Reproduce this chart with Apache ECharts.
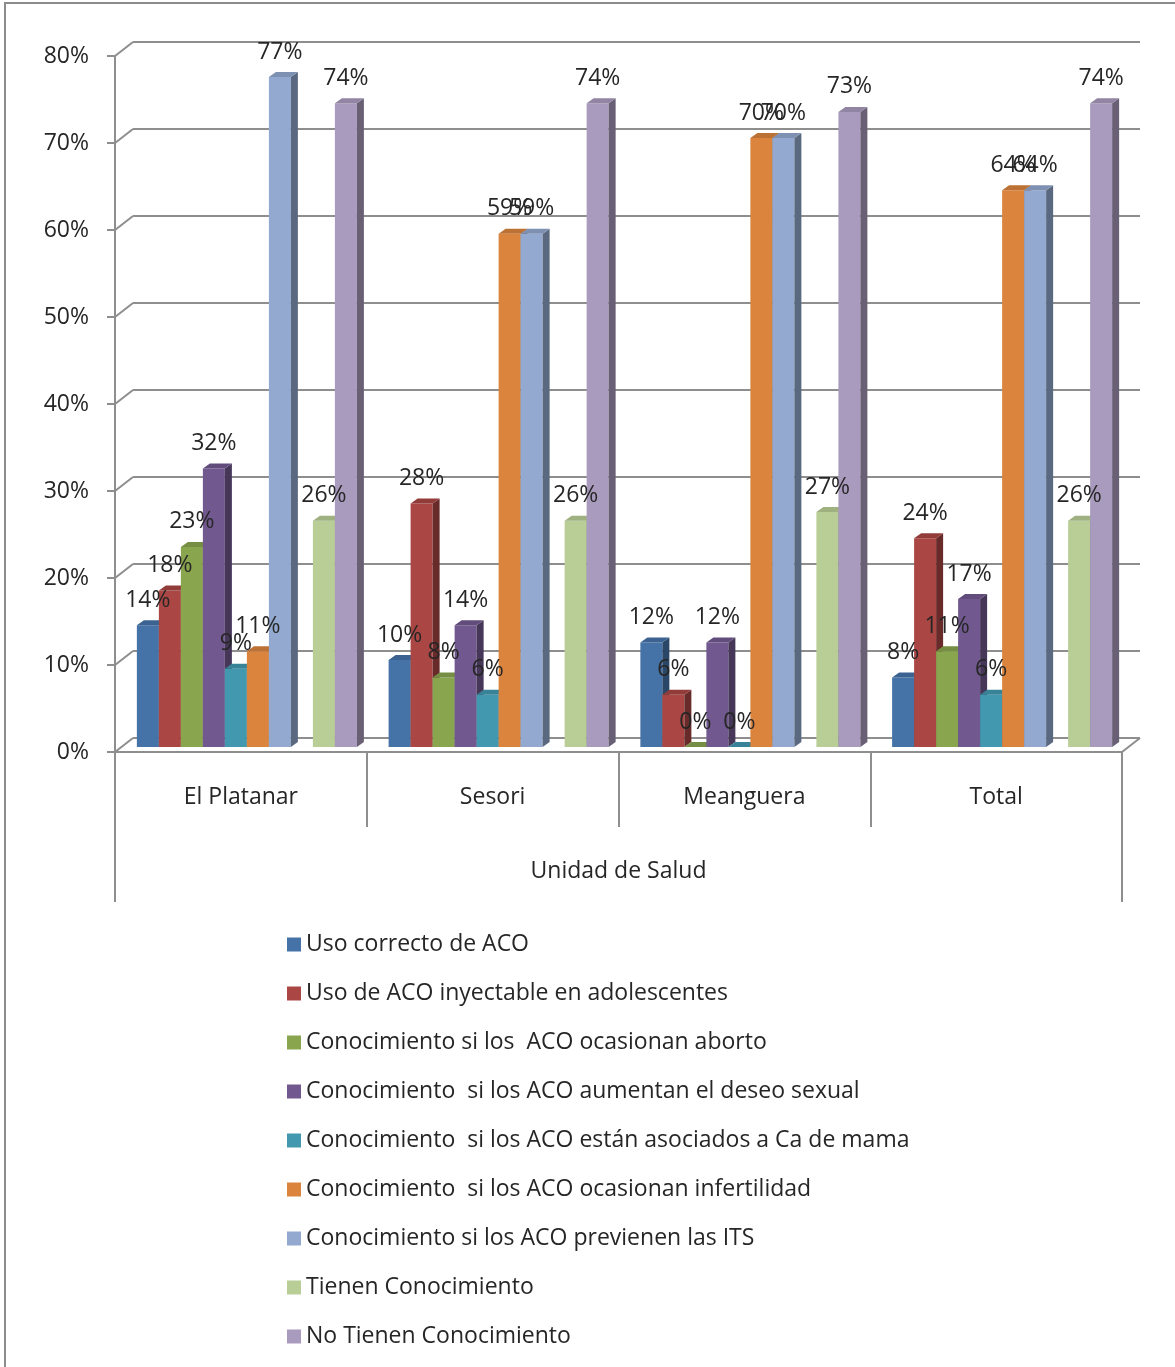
<!DOCTYPE html>
<html>
<head>
<meta charset="utf-8">
<script src="https://cdn.jsdelivr.net/npm/echarts@6/dist/echarts.min.js"></script>
<style>
html,body{margin:0;padding:0;background:#fff;overflow:hidden;}
#frame{position:absolute;left:4px;top:2px;width:1220px;height:1420px;border:2px solid #8c8c8c;box-sizing:border-box;}
#chart{position:absolute;left:0;top:0;width:1175px;height:1367px;}
</style>
</head>
<body>
<div id="frame"></div>
<div id="chart"></div>
<script>
// ---------- DATA ----------
const CATEGORIES = ['El Platanar', 'Sesori', 'Meanguera', 'Total'];
const AXIS_TITLE = 'Unidad de Salud';

const SERIES_NAMES = [
  'Uso correcto de ACO',
  'Uso de ACO inyectable en adolescentes',
  'Conocimiento si los  ACO ocasionan aborto',
  'Conocimiento  si los ACO aumentan el deseo sexual',
  'Conocimiento  si los ACO están asociados a Ca de mama',
  'Conocimiento  si los ACO ocasionan infertilidad',
  'Conocimiento si los ACO previenen las ITS',
  'Tienen Conocimiento',
  'No Tienen Conocimiento'
];

const USO_CORRECTO     = [14, 10, 12, 8];
const USO_INYECTABLE   = [18, 28, 6, 24];
const ABORTO           = [23, 8, 0, 11];
const DESEO_SEXUAL     = [32, 14, 12, 17];
const CA_MAMA          = [9, 6, 0, 6];
const INFERTILIDAD     = [11, 59, 70, 64];
const PREVIENEN_ITS    = [77, 59, 70, 64];
const EMPTY_SERIES     = [null, null, null, null];   // empty slot in the original chart
const TIENEN           = [26, 26, 27, 26];
const NO_TIENEN        = [74, 74, 73, 74];

const Y_TICKS = [0, 10, 20, 30, 40, 50, 60, 70, 80];

// ---------- STYLE ----------
const COLORS = ['#4572A7', '#AA4643', '#89A54E', '#71588F', '#4198AF', '#DB843D', '#93A9CF', '#ffffff', '#B9CD96', '#A99BBD'];
const FONT = "'Open Sans', sans-serif";
const TEXT_COLOR = '#262626';
const GRID_COLOR = '#8e8e8e';
const DEPTH_X = 18, DEPTH_Y = 14;   // wall depth
const BAR_DX = 7, BAR_DY = 5;       // bar depth
const SLOTS = 10;
const BAR_FILL = 0.874;
const LABEL_GAP = 25;

const SERIES_VALUES = [USO_CORRECTO, USO_INYECTABLE, ABORTO, DESEO_SEXUAL, CA_MAMA, INFERTILIDAD, PREVIENEN_ITS, EMPTY_SERIES, TIENEN, NO_TIENEN];
const SERIES_LABELS = SERIES_NAMES.slice(0, 7).concat([' ']).concat(SERIES_NAMES.slice(7));

function shade(hex, f) {
  const n = parseInt(hex.slice(1), 16);
  const r = Math.round(((n >> 16) & 255) * f), g = Math.round(((n >> 8) & 255) * f), b = Math.round((n & 255) * f);
  return 'rgb(' + r + ',' + g + ',' + b + ')';
}

function barRenderer(slot, color) {
  const topC = shade(color, 0.86), sideC = shade(color, 0.62);
  return function (params, api) {
    const c = api.value(0), v = api.value(1);
    const b = api.coord([c, 0]);
    const t = api.coord([c, v]);
    const band = api.size([1, 0])[0];
    const w = band * BAR_FILL / SLOTS;
    const x0 = b[0] - w * SLOTS / 2 + w * slot;
    const x1 = x0 + w;
    const yb = b[1], yt = t[1];
    return {
      type: 'group',
      children: [
        { type: 'rect', shape: { x: x0, y: yt, width: w, height: yb - yt }, style: { fill: color } },
        { type: 'polygon', shape: { points: [[x1, yt], [x1, yb], [x1 + BAR_DX, yb - BAR_DY], [x1 + BAR_DX, yt - BAR_DY]] }, style: { fill: sideC } },
        { type: 'polygon', shape: { points: [[x0, yt], [x1, yt], [x1 + BAR_DX, yt - BAR_DY], [x0 + BAR_DX, yt - BAR_DY]] }, style: { fill: topC } },
        { type: 'text', z2: 100, style: { text: v + '%', x: (x0 + x1) / 2, y: yt - LABEL_GAP, align: 'center', verticalAlign: 'middle', fontSize: 23, fontFamily: FONT, fill: TEXT_COLOR } }
      ]
    };
  };
}

const series = SERIES_VALUES.map(function (vals, k) {
  const data = [];
  vals.forEach(function (v, i) { if (v !== null) data.push([i, v]); });
  return {
    name: SERIES_LABELS[k],
    type: 'custom',
    xAxisIndex: 3,
    yAxisIndex: 2,
    itemStyle: { color: COLORS[k] },
    data: data,
    renderItem: barRenderer(k, COLORS[k])
  };
});

// wall depth connectors at each front tick
series.push({
  name: 'walls',
  type: 'custom',
  xAxisIndex: 0,
  yAxisIndex: 0,
  silent: true,
  z: 1,
  data: Y_TICKS.map(function (v) { return [0, v]; }),
  renderItem: function (params, api) {
    const cs = params.coordSys;
    const v = api.value(1);
    const y = api.coord([0, v])[1];
    const st = { stroke: GRID_COLOR, lineWidth: 2 };
    const ch = [{ type: 'line', shape: { x1: cs.x, y1: y, x2: cs.x + DEPTH_X, y2: y - DEPTH_Y }, style: st }];
    if (v === 0) ch.push({ type: 'line', shape: { x1: cs.x + cs.width, y1: y, x2: cs.x + cs.width + DEPTH_X, y2: y - DEPTH_Y }, style: st });
    return { type: 'group', children: ch };
  }
});

const chart = echarts.init(document.getElementById('chart'), null, { renderer: 'canvas' });
const lineSt = { color: GRID_COLOR, width: 2 };

chart.setOption({
  animation: false,
  backgroundColor: 'transparent',
  textStyle: { fontFamily: FONT },
  grid: [
    { left: 133, right: 35, top: 42, bottom: 629 },   // back wall
    { left: 115, right: 53, top: 56, bottom: 615 },   // front axes
    { left: 121, right: 47, top: 51, bottom: 620 }    // bars
  ],
  xAxis: [
    { gridIndex: 1, type: 'category', data: CATEGORIES, position: 'bottom',
      axisLine: { onZero: false, lineStyle: lineSt },
      axisTick: { show: true, interval: 0, length: 75, lineStyle: lineSt },
      axisLabel: { margin: 34, fontSize: 23, color: TEXT_COLOR, fontFamily: FONT } },
    { gridIndex: 1, type: 'category', data: [AXIS_TITLE], position: 'bottom',
      axisLine: { show: false, onZero: false },
      axisTick: { show: true, length: 150, lineStyle: lineSt },
      axisLabel: { margin: 108, fontSize: 23, color: TEXT_COLOR, fontFamily: FONT } },
    { gridIndex: 0, type: 'category', data: CATEGORIES, show: false },
    { gridIndex: 2, type: 'category', data: CATEGORIES, show: false }
  ],
  yAxis: [
    { gridIndex: 1, type: 'value', min: 0, max: 80, interval: 10,
      axisLine: { show: true, lineStyle: lineSt },
      axisTick: { show: true, length: 8, lineStyle: lineSt },
      splitLine: { show: false },
      axisLabel: { formatter: '{value}%', margin: 26, fontSize: 23, color: TEXT_COLOR, fontFamily: FONT,
                   verticalAlign: 'middle', padding: [10, 0, 0, 0] } },
    { gridIndex: 0, type: 'value', min: 0, max: 80, interval: 10,
      axisLine: { show: false }, axisTick: { show: false }, axisLabel: { show: false },
      splitLine: { show: true, lineStyle: lineSt } },
    { gridIndex: 2, type: 'value', min: 0, max: 80, show: false, splitLine: { show: false } }
  ],
  legend: {
    orient: 'vertical', left: 282, top: 927,
    itemWidth: 14, itemHeight: 14, itemGap: 24, icon: 'rect',
    data: SERIES_NAMES,
    textStyle: { fontSize: 23, lineHeight: 25, color: TEXT_COLOR, fontFamily: FONT }
  },
  series: series
});
</script>
</body>
</html>
